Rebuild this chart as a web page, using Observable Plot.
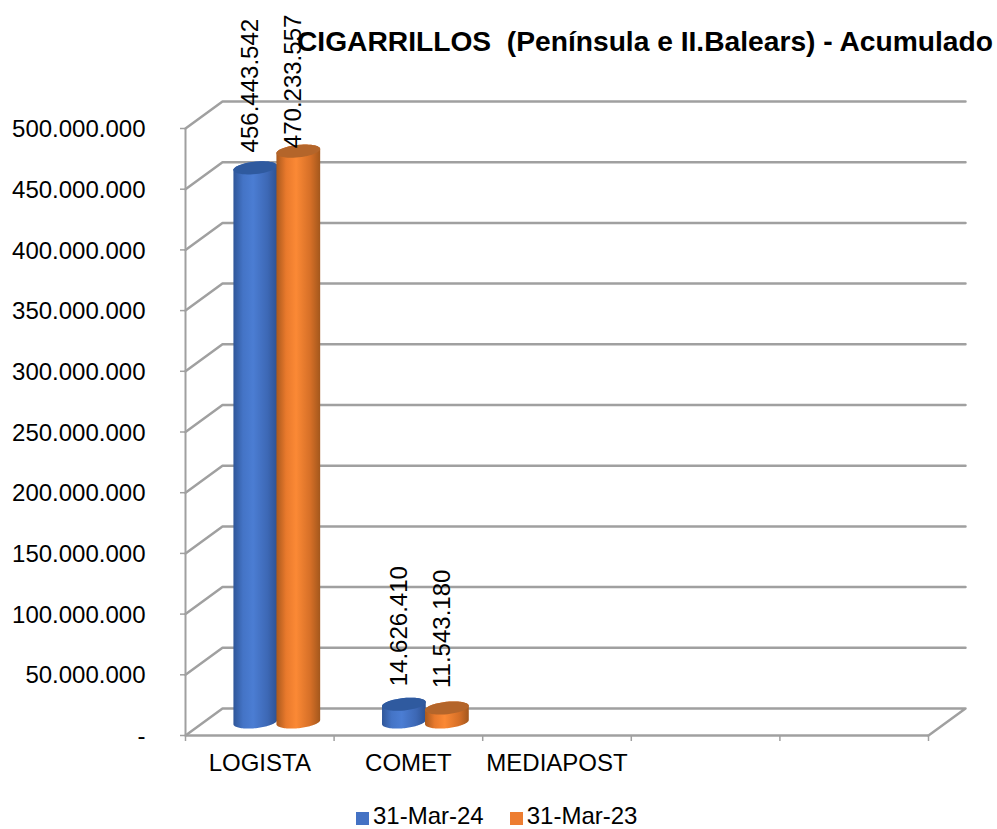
<!DOCTYPE html>
<html><head><meta charset="utf-8">
<script src="https://cdn.jsdelivr.net/npm/d3@7"></script>
<script src="https://cdn.jsdelivr.net/npm/@observablehq/plot@0.6"></script>
<style>
html,body{margin:0;padding:0;background:#fff;font-family:"Liberation Sans",Arial,sans-serif;color:#000}
#wrap{position:relative;width:997px;height:829px;overflow:hidden}
#title{position:absolute;left:297px;top:25px;font-size:28.2px;font-weight:bold;white-space:pre;line-height:32px}
#legend{position:absolute;left:356px;top:802px;height:27px;display:flex;align-items:center;font-size:24px;line-height:27px;white-space:nowrap}
#legend i{display:inline-block;width:13px;height:13px;margin-right:4px;position:relative;top:3px}
#legend span{margin-right:26px}
svg{display:block}
</style></head><body>
<div id="wrap"><div id="chart"></div>
<div id="title"></div><div id="legend"></div></div>
<script>
const titleText = "CIGARRILLOS  (Península e II.Balears) - Acumulado";
const categories = ["LOGISTA", "COMET", "MEDIAPOST", "", ""];
const seriesNames = ["31-Mar-24", "31-Mar-23"];
const values2024 = [456443542, 14626410, null];
const values2023 = [470233557, 11543180, null];
const valueTicks = [0, 50e6, 100e6, 150e6, 200e6, 250e6, 300e6, 350e6, 400e6, 450e6, 500e6];

const fmt = v => v === 0 ? "-" : d3.format(",")(v).replace(/,/g, ".");
const W = 997, H = 800, front = {l:185, b:735, t:128}, back = {r:965, t:101};
const depthPxX = 37, depthPxY = 27;
const slotPx = 148.6, yPxPerUnit = (front.b - front.t) / 500e6;
const depthX = depthPxX / slotPx, depthY = depthPxY / yPxPerUnit;
const n = categories.length;
const ux = p => p / slotPx, uy = p => p / yPxPerUnit; // pixel offsets to data units

const grey = "#a0a0a0";
const gridRows = valueTicks.flatMap(v => {
  const pts = [[0, v], [depthX, v + depthY], [n + depthX, v + depthY]];
  if (v === 0) pts.push([n, 0]);
  return pts.map(([x, y]) => ({x, y, v}));
});

// cylinder geometry
const A = 22, B = 6.2, PHI = -6 * Math.PI / 180, SHIFT = 21.5, NUDGE = -1.5;
const ell = (cx, cy, t) => ({
  x: cx + ux(A * Math.cos(t) * Math.cos(PHI) - B * Math.sin(t) * Math.sin(PHI)),
  y: cy - uy(A * Math.cos(t) * Math.sin(PHI) + B * Math.sin(t) * Math.cos(PHI))
});
const steps = d3.range(0, 49).map(i => i / 48);
function cylinderMarks(value, i, side, gradient, topFill) {
  if (value == null) return [];
  const cx = i + 0.5 + depthX / 2 + ux(side * SHIFT + NUDGE), y0 = depthY / 2, y1 = y0 + value;
  const body = [...steps.map(s => ell(cx, y0, Math.PI * (1 - s))), ell(cx, y1, 0), ...steps.map(s => ell(cx, y1, -Math.PI * s))];
  const top = steps.map(s => ell(cx, y1, 2 * Math.PI * s));
  return [
    Plot.line(body, {x: "x", y: "y", fill: `url(#${gradient})`, stroke: "none"}),
    Plot.line(top, {x: "x", y: "y", fill: topFill, stroke: "none"})
  ];
}
const labelRows = [
  {v: values2024[0], i: 0, side: -1, off: 15.5},
  {v: values2023[0], i: 0, side: 1, off: 3},
  {v: values2024[1], i: 1, side: -1, off: 18},
  {v: values2023[1], i: 1, side: 1, off: 20}
].map(d => ({
  text: fmt(d.v),
  x: d.i + 0.5 + depthX / 2 + ux(d.side * SHIFT - 6.5),
  y: depthY / 2 + d.v + uy(d.off)
}));

const defs = () => {
  const g = d3.create("svg:defs");
  [["gBlue", ["#2f5699", "#4474c6", "#4b7dd3", "#3d68b5", "#2d5292"]],
   ["gOrange", ["#a9591d", "#e8792c", "#fb8935", "#d56f27", "#a3571c"]]].forEach(([id, cols]) => {
    const lg = g.append("linearGradient").attr("id", id).attr("x1", 0).attr("x2", 1).attr("y1", 0).attr("y2", 0);
    [0, .22, .45, .78, 1].forEach((o, k) => lg.append("stop").attr("offset", o).attr("stop-color", cols[k]));
  });
  return g.node();
};

const chart = Plot.plot({
  width: W, height: H,
  marginLeft: front.l, marginRight: W - back.r, marginTop: back.t, marginBottom: H - front.b,
  style: {fontFamily: "'Liberation Sans', Arial, sans-serif", fontSize: "24px", background: "#fff", color: "#000", overflow: "visible"},
  x: {type: "linear", domain: [0, n + depthX]},
  y: {type: "linear", domain: [0, 500e6 + depthY]},
  marks: [
    defs,
    Plot.line(gridRows, {x: "x", y: "y", z: "v", stroke: grey, strokeWidth: 2.5}),
    Plot.ruleX([0], {y1: 0, y2: 500e6, stroke: grey, strokeWidth: 2}),
    Plot.ruleY([0], {x1: 0, x2: n, stroke: grey, strokeWidth: 2.5}),
    Plot.axisY({ticks: valueTicks, tickFormat: () => "", tickSize: 5, stroke: grey, label: null, strokeWidth: 1.5}),
    Plot.axisY({ticks: valueTicks, tickFormat: fmt, tickSize: 0, tickPadding: 40, dy: 1, fill: "#000", fontSize: 24, label: null}),
    Plot.axisX({ticks: d3.range(0, n + 1), tickFormat: () => "", tickSize: 6, stroke: grey, strokeWidth: 1.5, label: null}),
    Plot.axisX({ticks: d3.range(0, 3).map(i => i + 0.5), tickFormat: d => categories[d - 0.5], tickSize: 0, tickPadding: 18, fill: "#000", fontSize: 24, label: null}),
    ...values2024.flatMap((v, i) => [
      ...cylinderMarks(v, i, -1, "gBlue", "#2f5a9f"),
      ...cylinderMarks(values2023[i], i, 1, "gOrange", "#b4652a")
    ]),
    Plot.text(labelRows, {x: "x", y: "y", text: "text", rotate: -90, textAnchor: "start", lineAnchor: "middle", fontSize: 24, fill: "#000"})
  ]
});
document.getElementById("chart").append(chart);
document.getElementById("title").textContent = titleText;
const leg = document.getElementById("legend");
[["#4472c4", seriesNames[0]], ["#ed7d31", seriesNames[1]]].forEach(([c, t]) => {
  const sw = document.createElement("i"); sw.style.background = c;
  const s = document.createElement("span"); s.textContent = t;
  leg.append(sw, s);
});
</script></body></html>
